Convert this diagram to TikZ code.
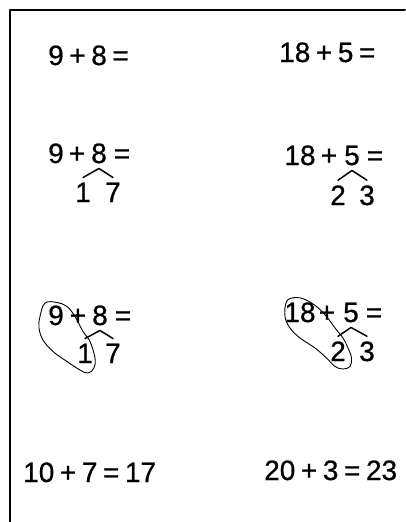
\documentclass[tikz,border=0pt]{standalone}
\usepackage{fontspec}
\setmainfont{Liberation Sans}[BoldFont={Liberation Sans},BoldFeatures={FakeBold=0.7}]
\newcommand\cifrefont{\fontsize{28}{32}\selectfont\bfseries\spaceskip 0.2em\relax}
\begin{document}
\begin{tikzpicture}[x=1pt,y=-1pt,line join=round,line cap=round,
    font=\cifrefont,
    cifra/.style={anchor=base,inner sep=5pt},
    riga/.style={anchor=base west,inner sep=0pt},
    ramo/.style={line width=1.5pt},
    cappio/.style={line width=0.9pt},
    cornice/.style={line width=2pt}]

  \useasboundingbox (0,0) rectangle (405,522);

  % ======================= cornice del foglio ==============================
  \draw[cornice] (10,522) -- (10,10) -- (405,10);

  % ======================= riga 1: le due somme ===========================
  \node[riga] (a1) at ( 48,65) {9 + 8 =};
  \node[riga] (b1) at (279,62) {18 + 5 =};

  % ======================= riga 2: si scompone il secondo addendo ==========
  \node[cifra] (n2) at ( 56,163) {9};
  \node[cifra] (p2) at ( 77,163) {+};
  \node[cifra] (m2) at ( 99,163) {8};    % addendo da scomporre
  \node[cifra] (u2) at (122,163) {=};
  \node[cifra] (s2) at ( 83,202) {1};    % parte che completa la decina
  \node[cifra] (d2) at (113,202) {7};    % parte che resta

  \node[cifra] (N2) at (300,165) {18};
  \node[cifra] (P2) at (329,165) {+};
  \node[cifra] (M2) at (352,165) {5};
  \node[cifra] (U2) at (375,165) {=};
  \node[cifra] (S2) at (338,205) {2};
  \node[cifra] (D2) at (367,205) {3};

  \draw[ramo] (m2.south) -- (s2.north)  (m2.south) -- (d2.north)
              (M2.south) -- (S2.north)  (M2.south) -- (D2.north);

  % ======================= riga 3: si forma la decina ======================
  \node[cifra] (n3) at ( 56,325) {9};
  \node[cifra] (p3) at ( 78,325) {+};
  \node[cifra] (m3) at (100,325) {8};
  \node[cifra] (u3) at (123,325) {=};
  \node[cifra] (s3) at ( 85,363) {1};
  \node[cifra] (d3) at (113,363) {7};

  \node[cifra] (N3) at (300,322) {18};
  \node[cifra] (P3) at (327,322) {+};
  \node[cifra] (M3) at (351,322) {5};
  \node[cifra] (U3) at (374,322) {=};
  \node[cifra] (S3) at (338,361) {2};
  \node[cifra] (D3) at (367,361) {3};

  \draw[ramo] (m3.south) -- (s3.north)  (m3.south) -- (d3.north)
              (M3.south) -- (S3.north)  (M3.south) -- (D3.north);

  % cappi tracciati a mano attorno a 9 e 1, 18 e 2
  \draw[cappio] plot[smooth cycle,tension=0.6] coordinates {
    (45,303) (57,302.5) (67,306.5) (75,316.5) (83,331.5) (90,341.5)
    (95,358) (94,368) (88,373) (80,370) (67,361.5) (53,351.5)
    (43,340) (39,328) (40,316.5)};
  \draw[cappio] plot[smooth cycle,tension=0.6] coordinates {
    (286.5,301.5) (295,297.5) (305,299.5) (316.5,306.5) (326.5,316.5)
    (335,328) (343,338) (348,348) (351.5,358) (350,366.5) (343,369)
    (335,366.5) (326.5,358) (315,348) (300,338) (290,328) (285,316.5)};

  % ======================= riga 4: i risultati =============================
  \node[riga] (a4) at ( 23,482) {10 + 7 = 17};
  \node[riga] (b4) at (264,480) {20 + 3 = 23};

\end{tikzpicture}
\end{document}
